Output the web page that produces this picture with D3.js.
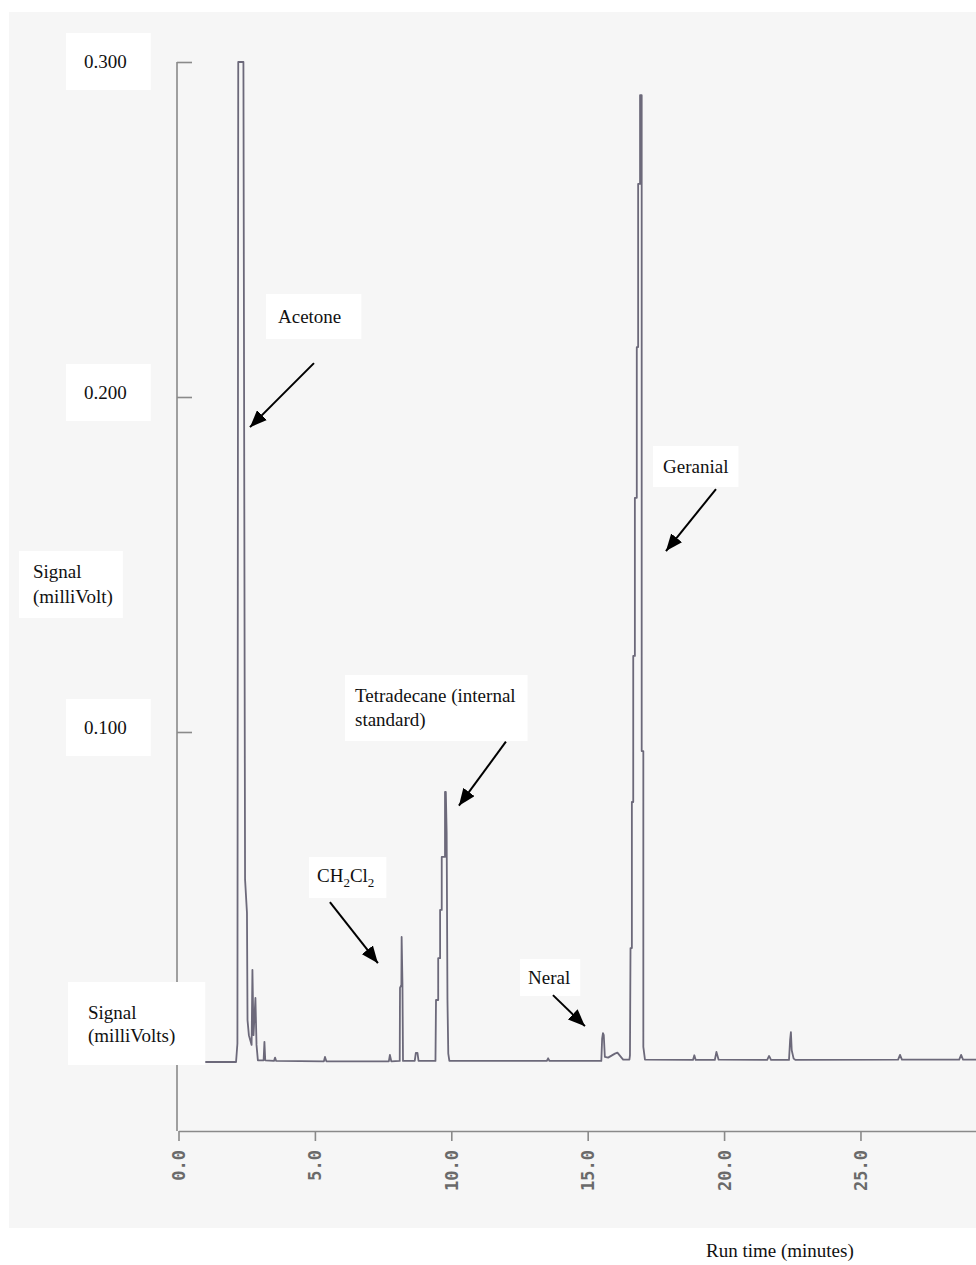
<!DOCTYPE html>
<html>
<head>
<meta charset="utf-8">
<script src="https://cdn.jsdelivr.net/npm/d3@7"></script>
<style>
  html, body { margin: 0; padding: 0; background: #fff; }
  svg { display: block; }
  .note { font-family: "Liberation Serif", "Times New Roman", serif; font-size: 19px; fill: #111; }
  .tick-lbl { font-family: "DejaVu Sans Mono", monospace; font-weight: bold; font-size: 17px; fill: #6a6a6a; }
</style>
</head>
<body>
<div id="chart"></div>
<script>
// detector trace: run time (min) and signal (mV)
const traceTime = [
  0, 2.11, 2.16, 2.19, 2.38, 2.44, 2.51, 2.53, 2.58, 2.68, 2.71, 2.75, 2.82, 2.86, 2.91,
  3.12, 3.15, 3.18, 3.50, 3.54, 3.58, 5.33, 5.37, 5.42, 7.71, 7.75, 7.80,
  8.11, 8.12, 8.17, 8.18, 8.21, 8.23, 8.66, 8.70, 8.76, 8.80,
  9.42, 9.44, 9.52, 9.52, 9.59, 9.59, 9.65, 9.65, 9.77, 9.77, 9.80, 9.83, 9.86, 9.89, 9.93,
  13.50, 13.55, 13.60,
  15.50, 15.53, 15.56, 15.59, 15.63, 15.75, 16.00, 16.09, 16.30, 16.53,
  16.55, 16.57, 16.62, 16.62, 16.67, 16.67, 16.73, 16.73, 16.80, 16.80, 16.85, 16.85, 16.92, 16.92,
  16.98, 16.98, 17.04, 17.04, 17.10,
  18.86, 18.91, 18.96, 19.66, 19.72, 19.80, 21.58, 21.65, 21.72,
  22.38, 22.42, 22.45, 22.48, 22.55, 22.62,
  26.38, 26.45, 26.52, 28.62, 28.69, 28.76, 29.30
];
const traceSignal = [
  0.0015, 0.0015, 0.007, 0.300, 0.300, 0.056, 0.046, 0.014, 0.0095, 0.0066, 0.029, 0.0095, 0.0206, 0.0066, 0.002,
  0.002, 0.0075, 0.002, 0.0018, 0.0028, 0.0018, 0.0017, 0.003, 0.0017, 0.0017, 0.0036, 0.0017,
  0.0018, 0.0236, 0.0245, 0.0388, 0.025, 0.0018, 0.0018, 0.0042, 0.0042, 0.0018,
  0.0018, 0.020, 0.020, 0.0325, 0.0325, 0.0469, 0.0469, 0.0627, 0.0627, 0.0821, 0.0821, 0.070, 0.020, 0.004, 0.0018,
  0.0018, 0.0026, 0.0018,
  0.0018, 0.0085, 0.0101, 0.0095, 0.0030, 0.0028, 0.0040, 0.0043, 0.0022, 0.0022,
  0.0035, 0.0355, 0.0355, 0.0791, 0.0791, 0.1227, 0.1227, 0.1699, 0.1699, 0.2149, 0.2149, 0.2636, 0.2636, 0.2901,
  0.2901, 0.0943, 0.0943, 0.006, 0.0022,
  0.0021, 0.0035, 0.0021, 0.0021, 0.0045, 0.0022, 0.0021, 0.0033, 0.0021,
  0.0021, 0.0080, 0.0104, 0.0050, 0.0025, 0.0021,
  0.0022, 0.0036, 0.0022, 0.0022, 0.0036, 0.0022, 0.0022
];

const xTickValues = [0, 5, 10, 15, 20, 25];
const xTickLabels = ["0.0", "5.0", "10.0", "15.0", "20.0", "25.0"];
const yTickValues = [0.1, 0.2, 0.3];
const yTickLabels = ["0.100", "0.200", "0.300"];

// arrow tips (time, signal) for the named peaks
const peakNames = ["Acetone", "CH2Cl2", "Tetradecane", "Neral", "Geranial"];
const arrowTime = [2.62, 7.31, 10.28, 14.90, 17.87];
const arrowSignal = [0.191, 0.031, 0.078, 0.0122, 0.154];

const W = 976, H = 1265;
const svg = d3.select("#chart").append("svg").attr("width", W).attr("height", H);

const x = d3.scaleLinear().domain([0, 29.25]).range([178.5, 976.4]);
const y = d3.scaleLinear().domain([0, 0.3]).range([1067, 62]);
const axisY = 1131;
const axisColor = "#8a8a8a";

// scanned page
svg.append("rect").attr("x", 0).attr("y", 0).attr("width", W).attr("height", H).attr("fill", "#fff");
svg.append("rect").attr("x", 9).attr("y", 12).attr("width", W - 9).attr("height", 1216).attr("fill", "#f6f6f6");

// left frame line + ticks
svg.append("line")
  .attr("x1", 177).attr("x2", 177).attr("y1", y(0.3)).attr("y2", axisY)
  .attr("stroke", axisColor).attr("stroke-width", 1.6);

const gy = svg.append("g").attr("transform", "translate(177,0)")
  .call(d3.axisRight(y).tickValues(yTickValues).tickSize(15).tickSizeOuter(0).tickFormat(""));
gy.select(".domain").remove();
gy.selectAll(".tick line").attr("stroke", axisColor).attr("stroke-width", 1.6);

// bottom axis
const gx = svg.append("g").attr("transform", `translate(0,${axisY})`)
  .call(d3.axisBottom(x).tickValues(xTickValues).tickSize(10).tickSizeOuter(0)
    .tickFormat((d, i) => xTickLabels[i]));
gx.select(".domain").attr("stroke", axisColor).attr("stroke-width", 1.6);
gx.selectAll(".tick line").attr("stroke", axisColor).attr("stroke-width", 1.6);
gx.selectAll(".tick text")
  .attr("class", "tick-lbl")
  .attr("transform", "rotate(-90)")
  .attr("text-anchor", "end")
  .attr("x", -19).attr("y", 0).attr("dy", "0.35em")
  .attr("font-family", null).attr("font-size", null).attr("fill", null);

// trace
const line = d3.line().x(d => x(d[0])).y(d => y(d[1]));
svg.append("path")
  .datum(d3.zip(traceTime, traceSignal))
  .attr("d", line)
  .attr("fill", "none")
  .attr("stroke", "#6c697a")
  .attr("stroke-width", 1.8)
  .attr("stroke-linejoin", "round");

// text boxes (white) with their text
function noteBox(lines, tx, ty, lead, pad) {
  const g = svg.append("g");
  const t = g.append("text").attr("class", "note").attr("x", tx).attr("y", ty);
  lines.forEach((s, i) => {
    const ts = t.append("tspan").attr("x", tx).attr("dy", i === 0 ? 0 : lead);
    if (s === "CH2Cl2") {
      ts.text("CH");
      t.append("tspan").attr("font-size", 13).attr("dy", 5).text("2");
      t.append("tspan").attr("dy", -5).text("Cl");
      t.append("tspan").attr("font-size", 13).attr("dy", 5).text("2");
    } else {
      ts.text(s);
    }
  });
  const b = t.node().getBBox();
  g.insert("rect", "text")
    .attr("x", b.x - pad[3]).attr("y", b.y - pad[0])
    .attr("width", b.width + pad[1] + pad[3]).attr("height", b.height + pad[0] + pad[2])
    .attr("fill", "#fff");
  return g;
}

yTickValues.forEach((v, i) => {
  noteBox([yTickLabels[i]], 84, y(v) + (i === 2 ? 6 : 2), 0, [18, 24, 18, 18]);
});

noteBox(["Signal", "(milliVolt)"], 33, 578, 25, [10, 10, 10, 14]);
noteBox(["Signal", "(milliVolts)"], 88, 1019, 23, [20, 30, 18, 20]);
noteBox(["Acetone"], 278, 323, 0, [12, 20, 12, 12]);
noteBox(["Tetradecane (internal", "standard)"], 355, 702, 24, [10, 12, 10, 10]);
noteBox(["CH2Cl2"], 317, 882, 0, [8, 12, 8, 8]);
noteBox(["Neral"], 528, 984, 0, [8, 10, 8, 8]);
noteBox(["Geranial"], 663, 473, 0, [10, 10, 10, 10]);
svg.append("text").attr("class", "note").attr("x", 706).attr("y", 1257).text("Run time (minutes)");

// arrows
const defs = svg.append("defs");
defs.append("marker")
  .attr("id", "head").attr("markerUnits", "userSpaceOnUse")
  .attr("markerWidth", 18).attr("markerHeight", 14)
  .attr("refX", 17).attr("refY", 7).attr("orient", "auto")
  .append("path").attr("d", "M0,0 L17,7 L0,14 Z").attr("fill", "#000");

const arrowOffset = [[64, -64], [-48, -61], [47, -64], [-32, -31], [50, -62]];
peakNames.forEach((name, i) => {
  const tx = x(arrowTime[i]), ty = y(arrowSignal[i]);
  svg.append("line")
    .attr("x1", tx + arrowOffset[i][0]).attr("y1", ty + arrowOffset[i][1])
    .attr("x2", tx).attr("y2", ty)
    .attr("stroke", "#000").attr("stroke-width", 2)
    .attr("marker-end", "url(#head)");
});
</script>
</body>
</html>
